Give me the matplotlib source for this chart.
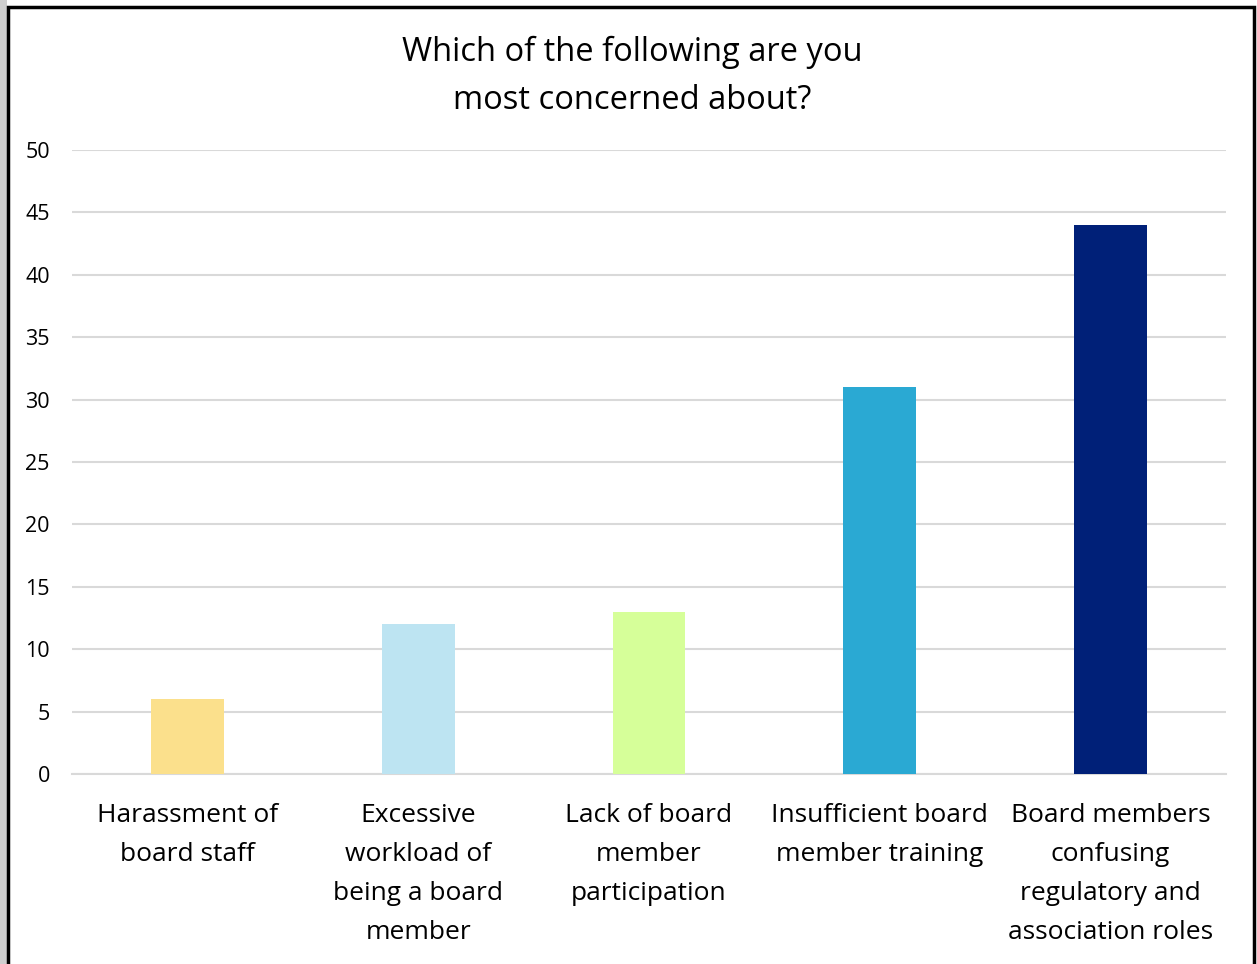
import matplotlib.pyplot as plt
from matplotlib.patches import Rectangle

categories = ["Harassment of\nboard staff",
              "Excessive\nworkload of\nbeing a board\nmember",
              "Lack of board\nmember\nparticipation",
              "Insufficient board\nmember training",
              "Board members\nconfusing\nregulatory and\nassociation roles"]
values = [6, 12, 13, 31, 44]
colors = ["#FBE08C", "#BDE4F2", "#D6FF99", "#2AA9D3", "#002078"]
yticks = [0, 5, 10, 15, 20, 25, 30, 35, 40, 45, 50]

plt.rcParams['font.family'] = ['Open Sans', 'DejaVu Sans']

W, H = 1257, 964
fig = plt.figure(figsize=(W / 100, H / 100), dpi=100)

# frame around the chart (with a little shadow on the left)
fig.patches.append(Rectangle((0, 0), 7 / W, 1, transform=fig.transFigure,
                             facecolor="#CFCFCF", edgecolor="none"))
fig.patches.append(Rectangle((8 / W, -0.05), (1254 - 8) / W, 1.05 - 7 / H,
                             transform=fig.transFigure, facecolor="none",
                             edgecolor="black", lw=2.5))

ax = fig.add_axes([72 / W, 1 - 774 / H, (1226 - 72) / W, (774 - 150) / H])
ax.bar(range(len(values)), values, width=0.316, color=colors, zorder=3)

ax.set_xlim(-0.5, 4.5)
ax.set_ylim(0, 50)
ax.set_yticks(yticks)
ax.set_xticks(range(len(categories)))
ax.set_xticklabels(categories, fontsize=19, linespacing=1.73, va="top")
ax.tick_params(axis="x", length=0, pad=21)
ax.tick_params(axis="y", length=0, labelsize=15.5, pad=16)

ax.grid(axis="y", color="#D9D9D9", lw=1.5, zorder=0)
for s in ["top", "right", "left"]:
    ax.spines[s].set_visible(False)
ax.spines["bottom"].set_color("#D9D9D9")
ax.spines["bottom"].set_linewidth(1.5)

fig.text(632 / W, 1 - 76 / H, "Which of the following are you\nmost concerned about?",
         ha="center", va="center", fontsize=23.5, linespacing=1.6)

fig.savefig("out.png", dpi=100)
